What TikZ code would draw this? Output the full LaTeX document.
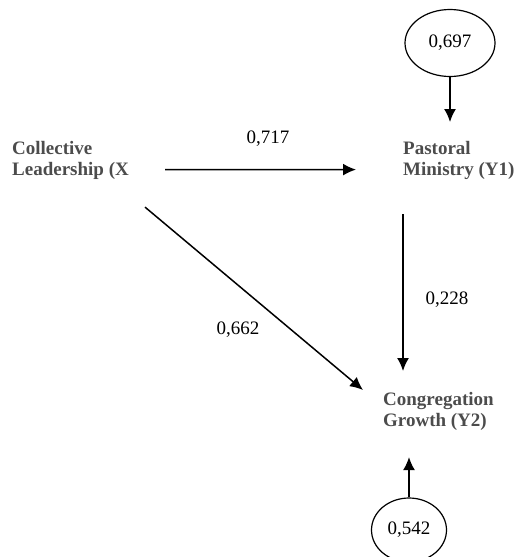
\documentclass[tikz,border=0pt]{standalone}
\usepackage{fontspec}
\setmainfont{Liberation Serif}
\usetikzlibrary{arrows.meta,shapes.geometric}

\tikzset{
    varbox/.style={anchor=north west, align=left, inner sep=0pt, text=black!70,
        font=\fontsize{19}{21.5}\selectfont\bfseries},
    coefval/.style={inner sep=0pt, font=\fontsize{19}{21.5}\selectfont},
    errbox/.style={draw, ellipse, line width=1.2pt, inner sep=0pt, font=\fontsize{19}{21.5}\selectfont},
    path/.style={-{Latex[length=13pt,width=12pt]}, line width=1.5pt}
}

\begin{document}
\begin{tikzpicture}[x=1pt, y=-1pt]
    \useasboundingbox (0, 0) rectangle (516, 557);

    \node[varbox] (X) at (12, 141) {Collective\\Leadership (X};
    \node[varbox] (Y1) at (403, 141) {Pastoral\\Ministry (Y1)};
    \node[varbox] (Y2) at (383, 392) {Congregation\\Growth (Y2)};

    \node[errbox, minimum width=90pt, minimum height=67pt] (E1) at (450, 43) {0,697};
    \node[errbox, minimum width=75pt, minimum height=64pt] (E2) at (409, 530) {0,542};

    \draw[path] ([shift={(36, 9)}]X.east) -- ([shift={(-47, 9)}]Y1.west);
    \draw[path] ([shift={(16, 27)}]X.south east) -- ([shift={(-20, -2)}]Y2.north west);
    \draw[path, shorten <=34pt, shorten >=21pt] (Y1.south west) -- (Y1.south west |- Y2.north);
    \draw[path, shorten >=19pt] (E1) -- (E1 |- Y1.north);
    \draw[path, shorten >=26pt] (E2) -- (E2 |- Y2.south);

    \node[coefval] (c717) at (268, 139) {0,717};
    \node[coefval] (c662) at (238, 330) {0,662};
    \node[coefval] (c228) at (447, 300) {0,228};

\end{tikzpicture}
\end{document}
